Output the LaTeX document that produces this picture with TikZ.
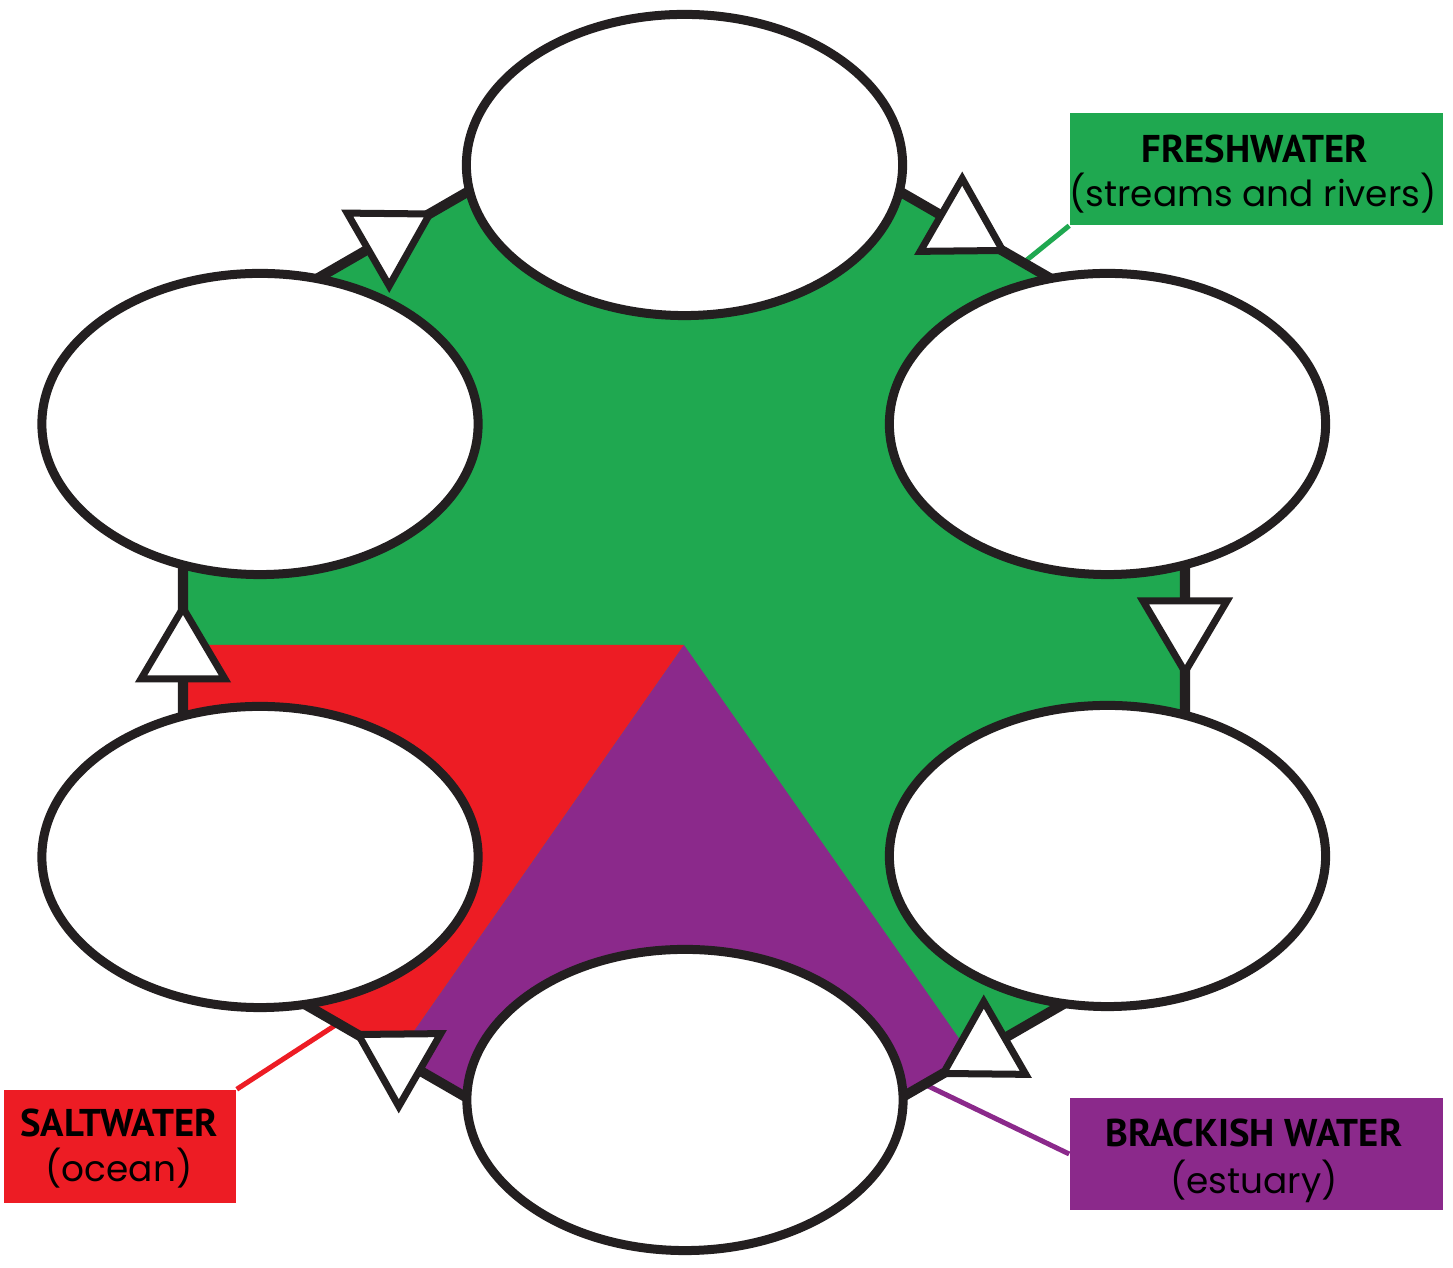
\documentclass[tikz,border=0pt]{standalone}
\usepackage{fontspec}
\usetikzlibrary{shapes.geometric}
\newfontfamily\labfont{Poppins}
\newfontfamily\headfont{PT Sans}
\definecolor{fresh}{RGB}{31,168,80}
\definecolor{salt}{RGB}{237,28,36}
\definecolor{brack}{RGB}{139,41,139}
\definecolor{ink}{RGB}{35,31,32}
\tikzset{
  blob/.style={ellipse, draw=ink, fill=white, line width=0.09cm,
    minimum width=4.36cm, minimum height=3.01cm, inner sep=0pt},
  flowtri/.style={fill=white, draw=ink, line width=0.07cm, line join=miter},
  rim/.style={draw=ink, line width=0.1cm, line join=round},
  labbox/.style={rectangle, inner sep=0pt, minimum height=1.12cm},
  headtxt/.style={anchor=base, inner sep=0pt, text=black,
    font=\headfont\bfseries\fontsize{11pt}{12pt}\selectfont},
  subtxt/.style={anchor=base, inner sep=0pt, text=black,
    font=\labfont\fontsize{10.2pt}{12pt}\selectfont},
  lead/.style={line width=0.05cm}
}
\newcommand\flowtri[3]{\draw[flowtri, shift={(#1,#2)}, rotate=#3] (47,0)--(-24,42)--(-24,-42)--cycle;}
\begin{document}
\begin{tikzpicture}[x=0.01cm, y=-0.01cm]
\useasboundingbox (0,0) rectangle (1453,1268);
% hexagon geometry
\coordinate (C) at (684,645);
\coordinate (hT) at (684,67);
\coordinate (hUR) at (1185,356);
\coordinate (hLR) at (1185,934);
\coordinate (hB) at (684,1223);
\coordinate (hLL) at (183,934);
\coordinate (hUL) at (183,356);
\coordinate (mL) at (183,645);
\coordinate (sL) at (396,1057);
\coordinate (sR) at (972,1057);
% fills
\fill[fresh] (hT)--(hUR)--(hLR)--(hB)--(hLL)--(hUL)--cycle;
\fill[salt] (C)--(mL)--(hLL)--(sL)--cycle;
\fill[brack] (C)--(sL)--(hB)--(sR)--cycle;
% label boxes
\node[labbox, fill=fresh, minimum width=3.73cm] (freshbox) at (1256.5,169) {};
\node[labbox, fill=salt, minimum width=2.32cm, minimum height=1.13cm] (saltbox) at (120,1146.5) {};
\node[labbox, fill=brack, minimum width=3.73cm] (brackbox) at (1256.5,1154) {};
% connector free ends
\coordinate (freshend) at (1012,272);
\coordinate (saltend) at (348,1017);
\coordinate (brackend) at (928,1086);
\draw[lead, fresh] (freshbox.south west) -- (freshend);
\draw[lead, salt] (saltbox.north east) -- (saltend);
\draw[lead, brack] (brackbox.west) -- (brackend);
% hexagon outline
\draw[rim] (hT)--(hUR)--(hLR)--(hB)--(hLL)--(hUL)--cycle;
% flow arrows
\flowtri{389}{237.5}{30}
\flowtri{962}{227}{-30}
\flowtri{1185}{625}{-90}
\flowtri{984}{1050}{-150}
\flowtri{399}{1058}{150}
\flowtri{183}{655}{90}
% ellipses
\node[blob] (top) at (684.5,165) {};
\node[blob] (ul) at (260,424) {};
\node[blob] (ur) at (1107.5,424) {};
\node[blob] (ll) at (260,857) {};
\node[blob] (lr) at (1107.5,856) {};
\node[blob] (bot) at (685,1100) {};
% texts
\node[headtxt] (freshT) at (1255,163) {FRESHWATER};
\node[subtxt] (freshS) at (1253,207) {(streams and rivers)};
\node[headtxt] (saltT) at (119,1137) {SALTWATER};
\node[subtxt] (saltS) at (119,1182) {(ocean)};
\node[headtxt] (brackT) at (1254,1147) {BRACKISH WATER};
\node[subtxt] (brackS) at (1254,1194) {(estuary)};
\end{tikzpicture}
\end{document}
